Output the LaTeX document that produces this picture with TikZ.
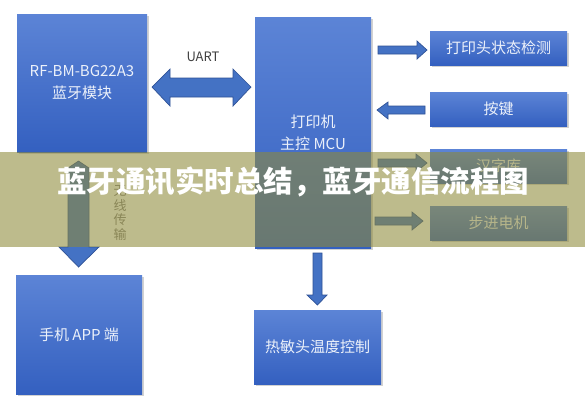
\documentclass[tikz,border=0pt]{standalone}
\usepackage{fontspec}
\newfontfamily\cjk{Noto Sans CJK SC}
\usetikzlibrary{shadows}
\definecolor{boxtop}{RGB}{92,132,214}
\definecolor{boxbot}{RGB}{52,96,192}
\definecolor{arrfill}{RGB}{68,114,196}
\definecolor{arrdraw}{RGB}{47,82,150}
\definecolor{bannerc}{RGB}{143,138,57}
\definecolor{boxtext}{RGB}{236,241,250}
\definecolor{labelc}{RGB}{64,64,64}
\begin{document}
\begin{tikzpicture}[x=1pt,y=-1pt,
  box/.style={rectangle, inner sep=0pt, top color=boxtop, bottom color=boxbot,
    draw=none, text=boxtext, font=\cjk\fontsize{15}{22}\selectfont, align=center,
    drop shadow={shadow xshift=1.5pt, shadow yshift=-2pt, opacity=0.35}},
  blockarrow/.style={fill=arrfill, draw=arrdraw, line width=0.7pt, line join=miter},
  lbl/.style={font=\cjk\fontsize{13}{14.5}\selectfont, align=center},
]
\fill[white] (0,0) rectangle (585,400);
\useasboundingbox (0,0) rectangle (585,400);

% boxes
\node[box, minimum width=130pt, minimum height=138pt] (bt) at (82,83) {RF-BM-BG22A3\\蓝牙模块};
\node[box, minimum width=116pt, minimum height=231pt] (mcu) at (313,132.5) {打印机\\主控 MCU};
\node[box, minimum width=137pt, minimum height=34pt] (r1) at (498.5,48) {打印头状态检测};
\node[box, minimum width=137pt, minimum height=34pt] (r2) at (498.5,109) {按键};
\node[box, minimum width=137pt, minimum height=34pt] (r3) at (498.5,166) {汉字库};
\node[box, minimum width=137pt, minimum height=34pt] (r4) at (498.5,223) {步进电机};
\node[box, minimum width=126pt, minimum height=119pt] (phone) at (79,334.5) {手机 APP 端};
\node[box, minimum width=127pt, minimum height=74pt] (therm) at (317.5,347) {热敏头温度控制};

% UART double arrow
\draw[blockarrow] (152,87) -- (170,69) -- (170,78) -- (233,78) -- (233,69) -- (251,87)
  -- (233,106) -- (233,97) -- (170,97) -- (170,106) -- cycle;
\node[lbl, text=labelc] (uart) at (203,57) {UART};

% right arrows
\draw[blockarrow] (378,46) -- (417,46) -- (417,41) -- (427,50) -- (417,59) -- (417,54) -- (378,54) -- cycle;
\draw[blockarrow] (377,110) -- (388,102) -- (388,106) -- (425,106) -- (425,114) -- (388,114) -- (388,119) -- cycle;
\draw[blockarrow] (378,159) -- (416,159) -- (416,154) -- (427,163) -- (416,172) -- (416,167) -- (378,167) -- cycle;
\draw[blockarrow] (375,217) -- (412,217) -- (412,212) -- (423,221) -- (412,230) -- (412,225) -- (375,225) -- cycle;

% down arrow to thermal
\draw[blockarrow] (313,253) -- (322,253) -- (322,295) -- (327,295) -- (317.5,305) -- (307,295) -- (313,295) -- cycle;

% wireless arrow
\draw[blockarrow] (78.5,161) -- (89,168) -- (89,247) -- (99,247) -- (78.5,267) -- (59,247) -- (68,247) -- (68,168) -- cycle;
\node[lbl, text=gray] (wl) at (120,213) {无\\线\\传\\输};

% banner overlay
\fill[bannerc, fill opacity=0.58] (0,152) rectangle (585,247);
\node[font=\cjk\bfseries\fontsize{29.5}{30}\selectfont, text=white, inner sep=0pt] (title) at (293,182) {蓝牙通讯实时总结，蓝牙通信流程图};
\end{tikzpicture}
\end{document}
